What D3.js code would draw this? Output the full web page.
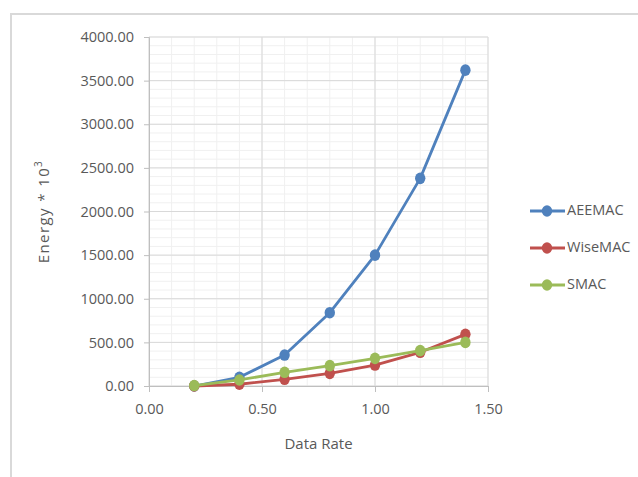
<!DOCTYPE html>
<html>
<head>
<meta charset="utf-8">
<script src="https://cdn.jsdelivr.net/npm/d3@7"></script>
<style>
  html, body { margin: 0; padding: 0; background: #fff; }
  svg { display: block; font-family: "Open Sans", "Liberation Sans", sans-serif; }
</style>
</head>
<body>
<svg id="chart" width="638" height="477"></svg>
<script>
// Data rate on the x axis, energy (x10^3) for each MAC protocol
const dataRate = [0.2, 0.4, 0.6, 0.8, 1.0, 1.2, 1.4];
const aeemac   = [0, 100, 355, 840, 1500, 2380, 3620];
const wisemac  = [0, 20, 77, 145, 240, 386, 592];
const smac     = [5, 69, 157, 233, 317, 405, 500];

const seriesNames  = ["AEEMAC", "WiseMAC", "SMAC"];
const seriesColors = ["#4f81bd", "#c0504d", "#9bbb59"];
const xTicks = [0, 0.5, 1.0, 1.5];
const yTicks = [0, 500, 1000, 1500, 2000, 2500, 3000, 3500, 4000];

const series = [aeemac, wisemac, smac].map((vals, i) => ({
  name: seriesNames[i],
  color: seriesColors[i],
  points: dataRate.map((x, j) => ({ x, y: vals[j] }))
}));

const svg = d3.select("#chart");
const plot = { left: 149, right: 488, top: 37, bottom: 386 };

const x = d3.scaleLinear().domain([0, 1.5]).range([plot.left, plot.right]);
const y = d3.scaleLinear().domain([0, 4000]).range([plot.bottom, plot.top]);

// outer chart frame
svg.append("rect")
  .attr("x", 11).attr("y", 14)
  .attr("width", 700).attr("height", 500)
  .attr("fill", "none").attr("stroke", "#d9d9d9").attr("stroke-width", 2);

// minor gridlines
const g = svg.append("g");
g.selectAll("line.minx").data(d3.range(0, 1.51, 0.1)).join("line")
  .attr("x1", d => x(d)).attr("x2", d => x(d))
  .attr("y1", plot.top).attr("y2", plot.bottom)
  .attr("stroke", "#f0f0f0").attr("stroke-width", 1);
g.selectAll("line.miny").data(d3.range(0, 4001, 100)).join("line")
  .attr("x1", plot.left).attr("x2", plot.right)
  .attr("y1", d => y(d)).attr("y2", d => y(d))
  .attr("stroke", "#f0f0f0").attr("stroke-width", 1);

// major gridlines
g.selectAll("line.majx").data(xTicks).join("line")
  .attr("x1", d => x(d)).attr("x2", d => x(d))
  .attr("y1", plot.top).attr("y2", plot.bottom)
  .attr("stroke", "#d9d9d9").attr("stroke-width", 1);
g.selectAll("line.majy").data(yTicks).join("line")
  .attr("x1", plot.left).attr("x2", plot.right)
  .attr("y1", d => y(d)).attr("y2", d => y(d))
  .attr("stroke", "#d9d9d9").attr("stroke-width", 1);

// axes
const fmt = d3.format(".2f");
const yAxis = svg.append("g")
  .attr("transform", `translate(${plot.left},0)`)
  .call(d3.axisLeft(y).tickValues(yTicks).tickFormat(fmt).tickSize(5).tickPadding(10));
const xAxis = svg.append("g")
  .attr("transform", `translate(0,${plot.bottom})`)
  .call(d3.axisBottom(x).tickValues(xTicks).tickFormat(fmt).tickSize(6).tickPadding(12));
[yAxis, xAxis].forEach(a => {
  a.select(".domain").attr("stroke", "#bfbfbf");
  a.selectAll(".tick line").attr("stroke", "#bfbfbf");
  a.selectAll(".tick text")
    .attr("fill", "#595959")
    .style("font-size", "14.5px")
    .style("font-family", "\"Open Sans\", sans-serif");
});

// axis titles
svg.append("text")
  .attr("x", (plot.left + plot.right) / 2).attr("y", 445)
  .attr("text-anchor", "middle").attr("dominant-baseline", "middle")
  .attr("fill", "#595959").style("font-size", "15px")
  .text("Data Rate");

const yTitle = svg.append("text")
  .attr("transform", `translate(45,${(plot.top + plot.bottom) / 2}) rotate(-90)`)
  .attr("text-anchor", "middle").attr("dominant-baseline", "middle")
  .attr("fill", "#595959").style("font-size", "15px")
  .style("letter-spacing", "1.4px");
yTitle.append("tspan").text("Energy * 10");
yTitle.append("tspan").attr("dy", -6).style("font-size", "10px").text("3");

// series lines and markers
const line = d3.line().x(d => x(d.x)).y(d => y(d.y));
const sg = svg.selectAll("g.series").data(series).join("g");
sg.append("path")
  .attr("d", d => line(d.points))
  .attr("fill", "none")
  .attr("stroke", d => d.color)
  .attr("stroke-width", 2.8)
  .attr("stroke-linejoin", "round");
sg.selectAll("ellipse").data(d => d.points.map(p => ({ ...p, color: d.color }))).join("ellipse")
  .attr("cx", d => x(d.x)).attr("cy", d => y(d.y))
  .attr("rx", 5.2).attr("ry", 5.8)
  .attr("fill", d => d.color);

// legend
const legend = svg.append("g");
const lg = legend.selectAll("g").data(series).join("g")
  .attr("transform", (d, i) => `translate(530,${211 + i * 37})`);
lg.append("line")
  .attr("x1", 0).attr("x2", 35).attr("y1", 0).attr("y2", 0)
  .attr("stroke", d => d.color).attr("stroke-width", 2.8);
lg.append("ellipse")
  .attr("cx", 17).attr("cy", 0).attr("rx", 5.2).attr("ry", 5.8)
  .attr("fill", d => d.color);
lg.append("text")
  .attr("x", 37).attr("y", 0)
  .attr("dominant-baseline", "middle")
  .attr("fill", "#595959").style("font-size", "14.5px")
  .text(d => d.name);
</script>
</body>
</html>
